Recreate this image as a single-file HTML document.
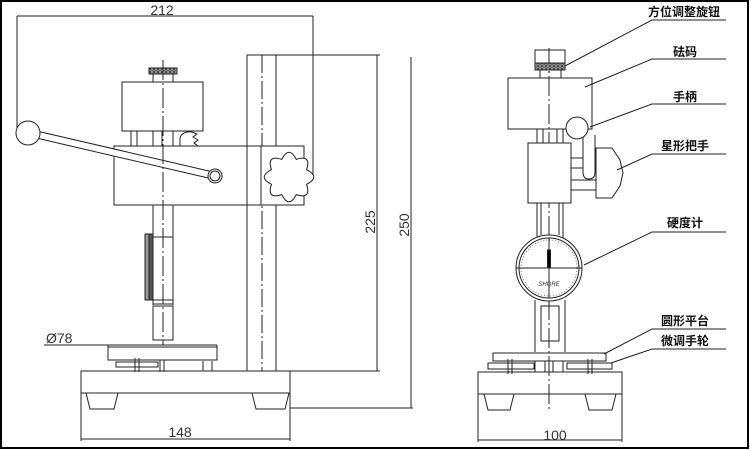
<!DOCTYPE html>
<html><head><meta charset="utf-8"><style>
html,body{margin:0;padding:0;background:#fff}
svg{display:block}
text{font-family:"Liberation Sans","Noto Sans CJK SC",sans-serif}
</style></head><body>
<svg width="750" height="450" viewBox="0 0 750 450" xmlns="http://www.w3.org/2000/svg">
<defs>
<pattern id="kn" width="4" height="3" patternUnits="userSpaceOnUse"><rect width="4" height="3" fill="#aaa"/><circle cx="2" cy="1.5" r="1.2" fill="none" stroke="#222" stroke-width="0.6"/></pattern>
</defs>
<rect x="0" y="0" width="750" height="450" fill="#fff"/>
<rect x="1" y="1" width="747" height="447" fill="none" stroke="#000" stroke-width="2"/>
<g fill="none" stroke="#222" stroke-width="1">
<!-- LEFT VIEW -->
<path d="M17,16 H313 M17,16 V130 M313,16 V180"/>
<rect x="247" y="55" width="29" height="316"/>
<path d="M262,55 V371" stroke-dasharray="18,3,2,3"/>
<path d="M276,55 H380 M290,371 H380 M290,408 H413 M377,55 V371 M411,57 V408"/>
<rect x="122" y="82" width="81" height="49"/>
<rect x="149" y="68" width="28" height="6" fill="url(#kn)"/>
<rect x="153" y="74" width="20" height="8"/>
<path d="M131,131 V146 M137,131 V146 M153,131 V146 M162,131 V146 M173,131 V146"/>
<path d="M180,146 V138 Q182,131 192,132 L197,134 L193,137 L198,140 L194,143 L198,146"/>
<rect x="114" y="146" width="190" height="59" fill="#fff"/>
<path d="M247,146 V205 M261,146 V205" />
<path d="M306.6,169.7 Q321,177 306.6,184.3 Q311.6,199.6 296.3,194.6 Q289,209 281.7,194.6 Q266.4,199.6 271.4,184.3 Q257,177 271.4,169.7 Q266.4,154.4 281.7,159.4 Q289,145 296.3,159.4 Q311.6,154.4 306.6,169.7 Z" fill="#fff"/>
<line x1="30" y1="133" x2="215" y2="176" stroke="#222" stroke-width="8"/>
<line x1="30" y1="133" x2="215" y2="176" stroke="#fff" stroke-width="6"/>
<circle cx="28" cy="133" r="12" fill="#fff"/>
<circle cx="215" cy="176" r="7" fill="#fff"/>
<circle cx="215" cy="176" r="5"/>
<path d="M163,60 V345" stroke-dasharray="20,3,2,3"/>
<path d="M153,205 V305 M173,205 V305"/>
<rect x="145" y="234" width="8" height="66" fill="#999"/>
<rect x="149" y="234" width="4" height="66" fill="#555"/>
<path d="M153,237 H173 M153,300 H173 M153,304 H173"/>
<rect x="153" y="306" width="20" height="34"/>
<path d="M44,345 H217"/>
<rect x="108" y="347" width="109" height="13"/>
<path d="M108,345 V360 M217,345 V360"/>
<rect x="116" y="362" width="42" height="5"/>
<path d="M135,358 V372 M139,358 V372 M160,360 V372 M164,360 V372 M203,361 V371 M212,361 V371"/>
<rect x="81" y="371" width="209" height="22"/>
<path d="M86,393 L90,409 H114 L118,393 M252,393 L256,409 H285 L289,393"/>
<path d="M81,393 V441 M290,393 V441 M81,439 H290"/>

<!-- RIGHT VIEW -->
<path d="M549,48 V412" stroke-dasharray="20,3,2,3"/>
<rect x="535" y="50" width="30" height="13"/>
<rect x="535" y="63" width="30" height="7" fill="url(#kn)"/>
<rect x="540" y="70" width="21" height="8"/>
<rect x="508" y="78" width="84" height="51"/>
<path d="M537,129 V145 M543,129 V145 M557,129 V145 M563,129 V145"/>
<rect x="528" y="143" width="43" height="60" fill="#fff"/>
<rect x="571" y="158" width="27" height="32"/>
<path d="M571,168 H598 M571,180 H598"/>
<path d="M596,148 H612 L620,160 L623,173 L620,186 L612,198 H596 Z" fill="#fff"/>
<path d="M583,135 V172 Q583,179 589,179 Q595,179 595,172 V135" fill="#fff"/>
<circle cx="577" cy="128" r="11" fill="#fff"/>
<path d="M537,203 V240 M563,203 V240 M541,203 V235 M559,203 V235"/>
<circle cx="549" cy="268" r="33" fill="#fff"/>
<circle cx="549" cy="268" r="30"/>
<circle cx="549" cy="268" r="28" stroke="#777" stroke-dasharray="1,2"/>
<path d="M516,268 H582 M549,238 V298"/>
<rect x="547.5" y="250" width="3" height="18" fill="#000"/>
<path d="M535,300 V352 M565,300 V352"/>
<rect x="541" y="306" width="18" height="35"/>
<rect x="493" y="353" width="113" height="8"/>
<rect x="488" y="363" width="46" height="6"/>
<rect x="567" y="363" width="45" height="6"/>
<path d="M535,361 V372 M563,361 V372 M545,361 V372 M553,361 V372 M508,359 V374 M512,359 V374 M588,359 V374 M592,359 V374"/>
<rect x="478" y="372" width="144" height="22"/>
<path d="M484,394 L488,410 H510 L514,394 M585,394 L589,410 H612 L616,394"/>
<path d="M478,394 V442 M622,394 V442 M478,440 H622"/>

<path d="M726,20 H652 L565,66"/>
<path d="M726,59 H652 L585,87"/>
<path d="M726,104 H652 L590,127"/>
<path d="M726,154 H652 L617,170"/>
<path d="M726,232 H652 L584,265"/>
<path d="M726,329 H652 L604,354"/>
<path d="M726,349 H652 L611,363"/>
</g>
<g fill="#333" font-size="14">
<text x="162" y="15" text-anchor="middle">212</text>
<text x="180" y="437" text-anchor="middle">148</text>
<text x="555" y="440" text-anchor="middle">100</text>
<text x="46" y="343">Ø78</text>
<text transform="translate(375,222) rotate(-90)" text-anchor="middle">225</text>
<text transform="translate(409,225) rotate(-90)" text-anchor="middle">250</text>
</g>
<text x="549" y="286" font-size="6" font-style="italic" text-anchor="middle" fill="#333">SHORE</text>
<g fill="#111" font-size="12" font-weight="bold" text-anchor="middle">
<text x="684" y="16">方位调整旋钮</text>
<text x="685" y="56">砝码</text>
<text x="685" y="101">手柄</text>
<text x="685" y="150">星形把手</text>
<text x="685" y="227">硬度计</text>
<text x="685" y="325">圆形平台</text>
<text x="685" y="345">微调手轮</text>
</g>
</svg>
</body></html>
